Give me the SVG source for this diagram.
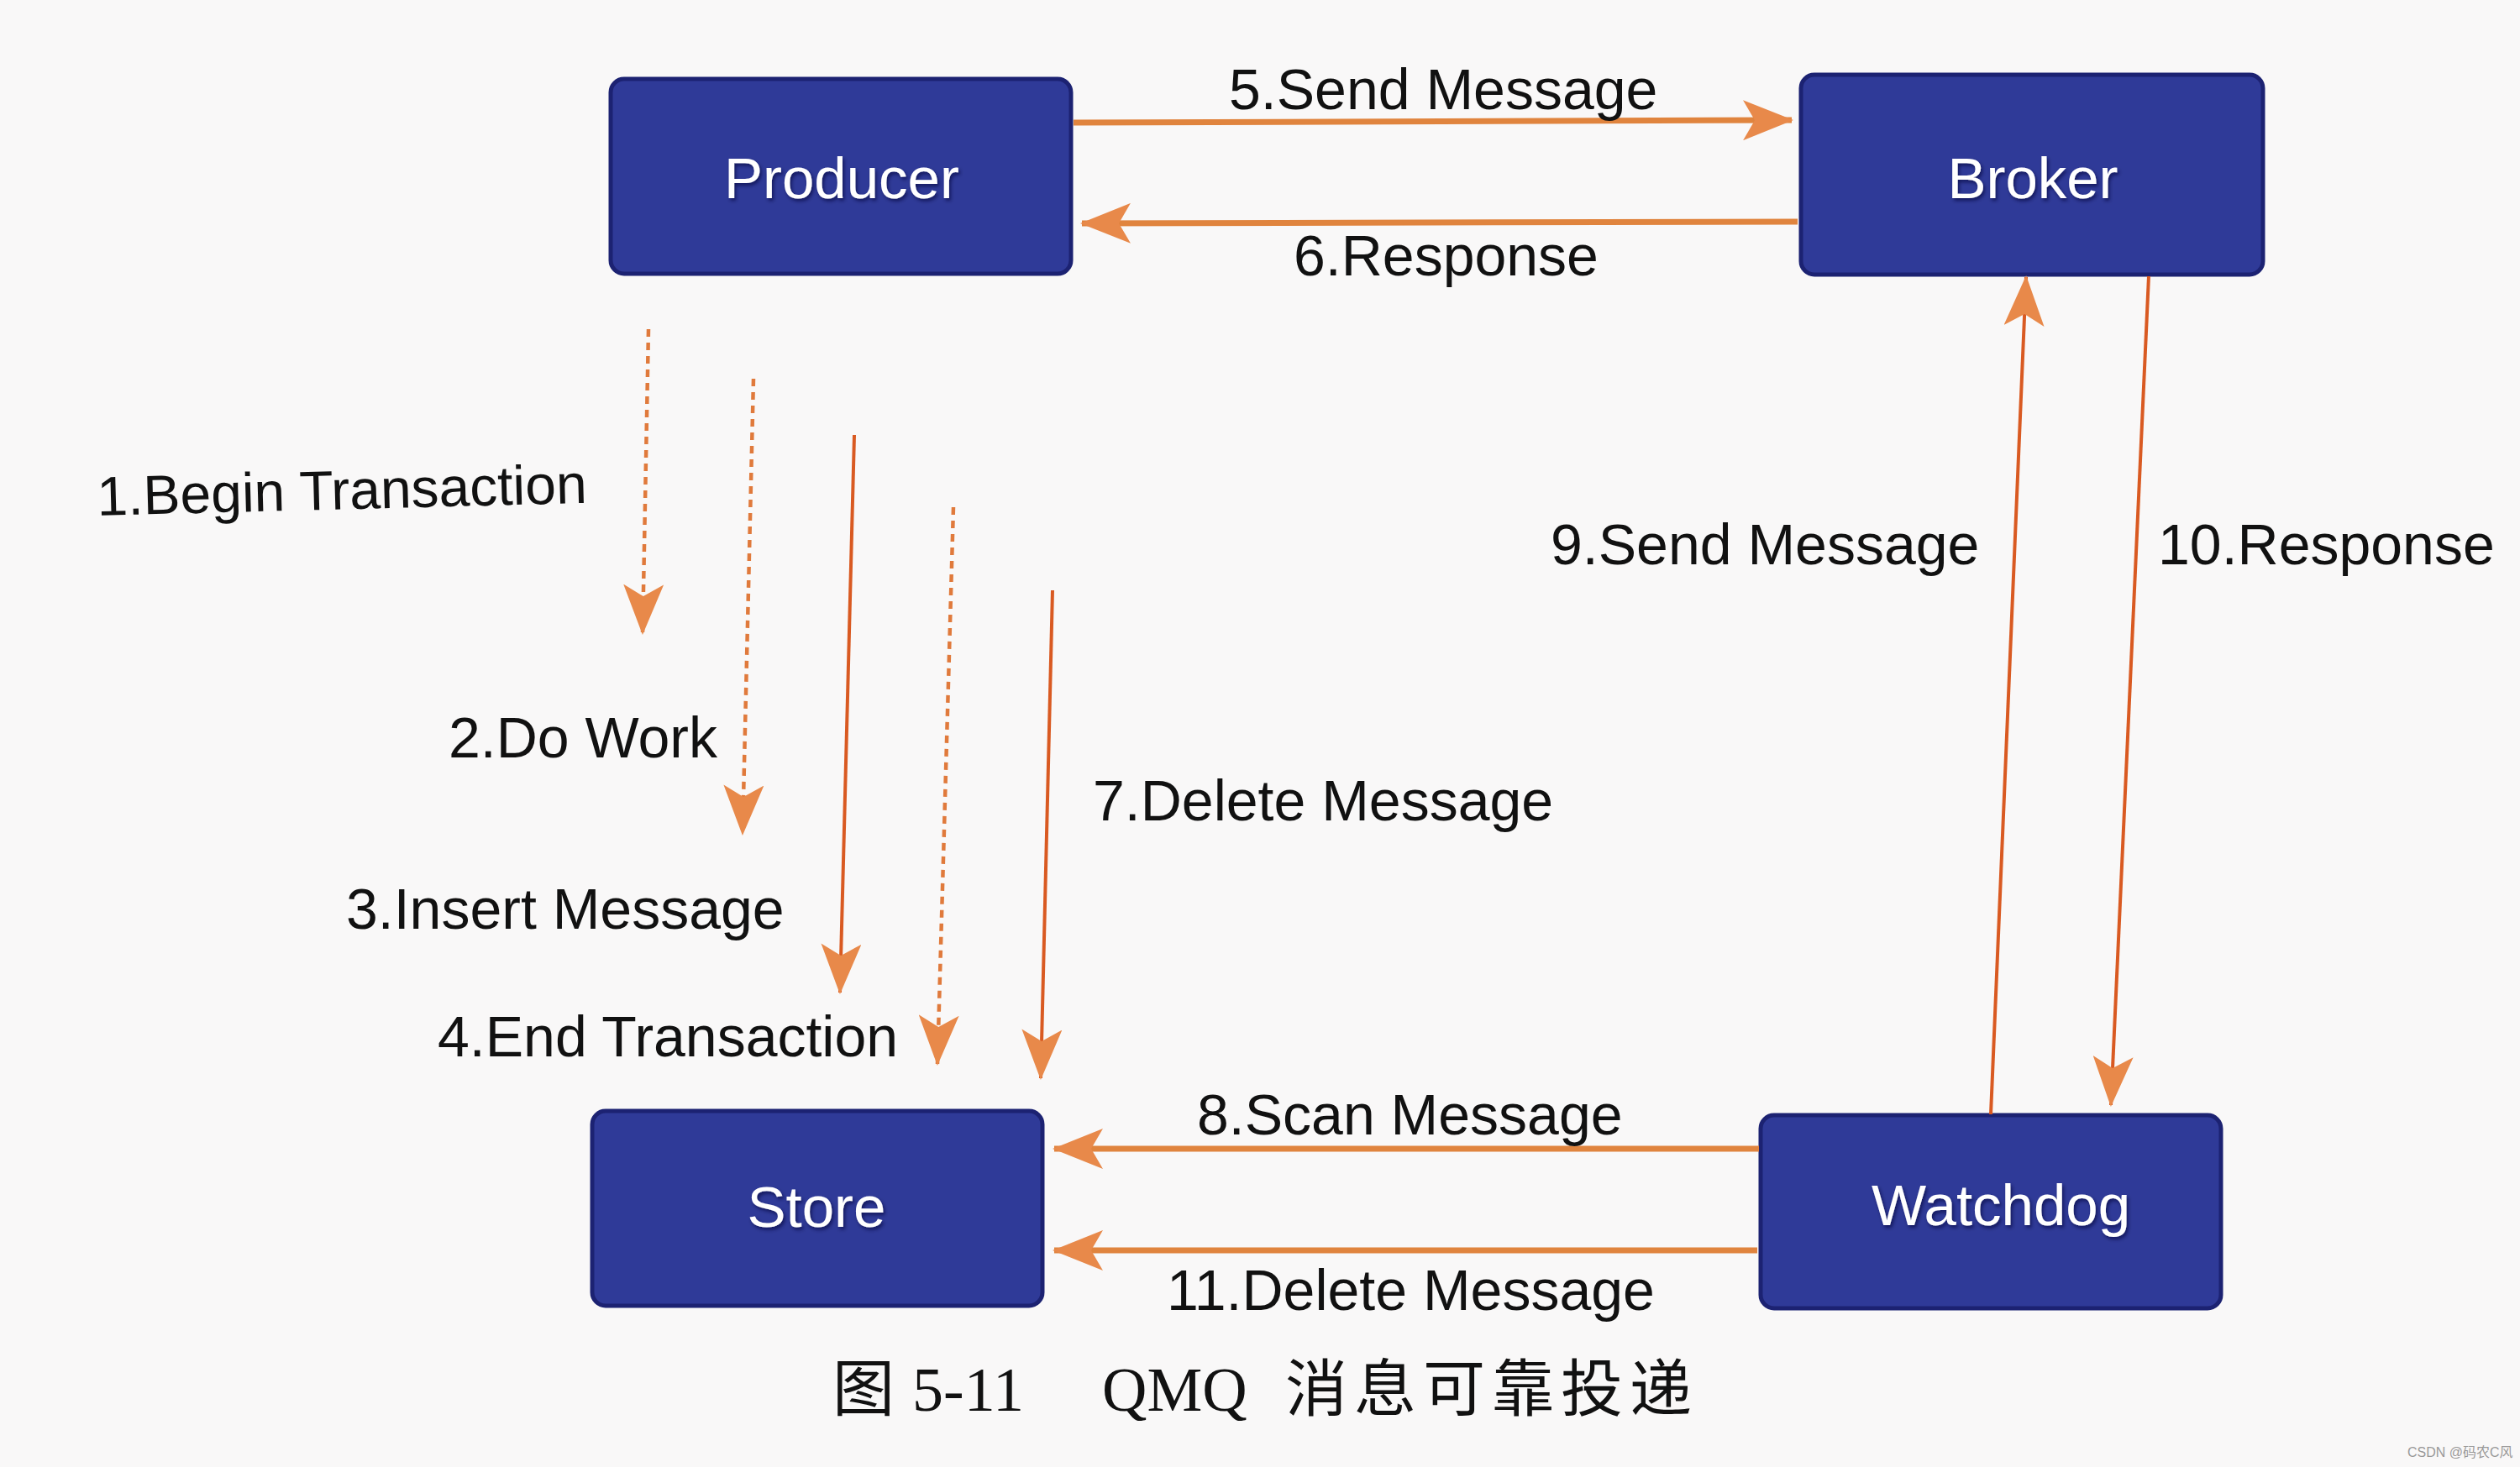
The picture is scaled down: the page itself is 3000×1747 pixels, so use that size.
<svg xmlns="http://www.w3.org/2000/svg" width="3000" height="1747" viewBox="0 0 3000 1747">
<defs>
<style>
.node rect{fill:#2f3a98;stroke:#1c2272;stroke-width:5}
.node text{font-family:"Liberation Sans",Arial,sans-serif;font-size:69px;fill:#ffffff;text-anchor:middle;dominant-baseline:central}
.lbl{font-family:"Liberation Sans",Arial,sans-serif;font-size:68px;fill:#111111}
.h{stroke:#e0843e;stroke-width:7;fill:none}
.s{stroke:#d95a22;stroke-width:4;fill:none}
.d{stroke:#e07a3c;stroke-width:4.5;fill:none;stroke-dasharray:9 7}
.cap{font-family:"Liberation Serif","Noto Sans CJK SC",serif;font-size:74px;fill:#111111}
</style>
<marker id="ah" viewBox="0 0 60 48" refX="58" refY="24" markerWidth="60" markerHeight="48" markerUnits="userSpaceOnUse" orient="auto">
<path d="M0,0 L60,24 L0,48 L14,24 Z" fill="#e8894a"/>
</marker>
<filter id="sh" x="-10%" y="-10%" width="120%" height="130%">
<feDropShadow dx="2" dy="3" stdDeviation="2" flood-color="#000033" flood-opacity="0.6"/>
</filter>
</defs>
<rect width="3000" height="1747" fill="#f9f8f8"/>

<g id="producer" class="node"><rect x="727" y="94" width="548" height="232" rx="16"/><text x="1002" y="212" filter="url(#sh)">Producer</text></g>
<g id="broker" class="node"><rect x="2144" y="89" width="550" height="238" rx="16"/><text x="2420" y="212" filter="url(#sh)">Broker</text></g>
<g id="store" class="node"><rect x="705" y="1323" width="536" height="232" rx="16"/><text x="972" y="1437" filter="url(#sh)">Store</text></g>
<g id="watchdog" class="node"><rect x="2096" y="1328" width="548" height="230" rx="16"/><text x="2382" y="1435" filter="url(#sh)">Watchdog</text></g>

<g id="connectors">
<line class="h" x1="1278" y1="146" x2="2133" y2="143" marker-end="url(#ah)"/>
<line class="h" x1="2140" y1="264" x2="1288" y2="266" marker-end="url(#ah)"/>
<line class="d" x1="772" y1="392" x2="765" y2="754" marker-end="url(#ah)"/>
<line class="d" x1="897" y1="451" x2="884" y2="993" marker-end="url(#ah)"/>
<line class="s" x1="1017" y1="518" x2="1000" y2="1182" marker-end="url(#ah)"/>
<line class="d" x1="1135" y1="604" x2="1116" y2="1267" marker-end="url(#ah)"/>
<line class="s" x1="1253" y1="703" x2="1239" y2="1284" marker-end="url(#ah)"/>
<line class="s" x1="2370" y1="1327" x2="2412" y2="330" marker-end="url(#ah)"/>
<line class="s" x1="2558" y1="329" x2="2513" y2="1316" marker-end="url(#ah)"/>
<line class="h" x1="2094" y1="1368" x2="1255" y2="1368" marker-end="url(#ah)"/>
<line class="h" x1="2092" y1="1489" x2="1255" y2="1489" marker-end="url(#ah)"/>
</g>

<g id="labels">
<text class="lbl" x="1463" y="130">5.Send Message</text>
<text class="lbl" x="1540" y="328">6.Response</text>
<text class="lbl" x="116" y="614" style="font-size:66px" transform="rotate(-1.5 116 614)">1.Begin Transaction</text>
<text class="lbl" x="534" y="902">2.Do Work</text>
<text class="lbl" x="412" y="1106">3.Insert Message</text>
<text class="lbl" x="521" y="1258">4.End Transaction</text>
<text class="lbl" x="1301" y="977">7.Delete Message</text>
<text class="lbl" x="1846" y="672">9.Send Message</text>
<text class="lbl" x="2569" y="672">10.Response</text>
<text class="lbl" x="1425" y="1351">8.Scan Message</text>
<text class="lbl" x="1389" y="1560">11.Delete Message</text>
</g>

<g id="caption">
<text class="cap" x="991" y="1680">图</text>
<text class="cap" x="1086" y="1680">5-11</text>
<text class="cap" x="1312" y="1680">QMQ</text>
<text class="cap" x="1530" y="1680" letter-spacing="8">消息可靠投递</text>
</g>
<text x="2866" y="1735" font-family="'Liberation Sans','Noto Sans CJK SC',sans-serif" font-size="16" fill="#999999">CSDN @码农C风</text>
</svg>
